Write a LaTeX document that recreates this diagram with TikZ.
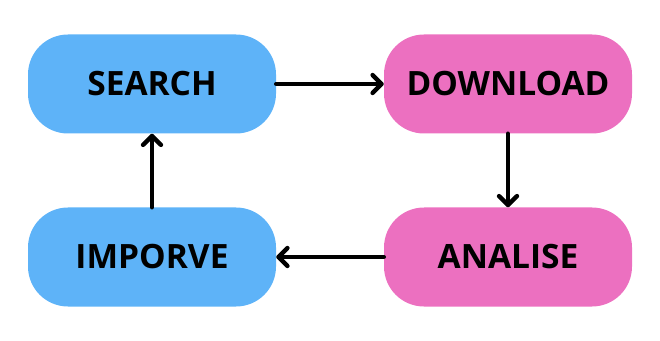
\documentclass[tikz,border=0pt]{standalone}
\usepackage{fontspec}
\setmainfont{Open Sans}
\usepackage{tikz}
\usetikzlibrary{arrows.meta}
\definecolor{stepblue}{HTML}{5EB3F8}
\definecolor{steppink}{HTML}{EC70C0}
\newcommand*{\StageBox}[4]{% #1 = name, #2 = x/y, #3 = colour, #4 = text
\node [stage, fill=#3] (#1) at (#2) {#4};
}

\begin{document}
\begin{tikzpicture}[x=1pt,y=1pt,
    stage/.style={draw=none, rounded corners=40pt, minimum width=248pt,
        minimum height=99pt, font=\fontsize{33.5}{40}\selectfont\bfseries},
    link/.style={line width=4.4pt, line cap=round,
        -{Straight Barb[length=9pt,width=18pt,line cap=round,line join=round]}}]

            \useasboundingbox (0,0) rectangle (660,340);

            % top row, bottom row
            \StageBox{search}{152,256}{stepblue}{SEARCH}
            \StageBox{download}{508,256}{steppink}{DOWNLOAD}
            \StageBox{imporve}{152,83}{stepblue}{IMPORVE}
            \StageBox{analise}{508,83}{steppink}{ANALISE}

            \draw [link] (search) -- (download);
            \draw [link] (download) -- (analise);
            \draw [link] (analise) -- (imporve);
            \draw [link] (imporve) -- (search);

        \end{tikzpicture}
\end{document}
